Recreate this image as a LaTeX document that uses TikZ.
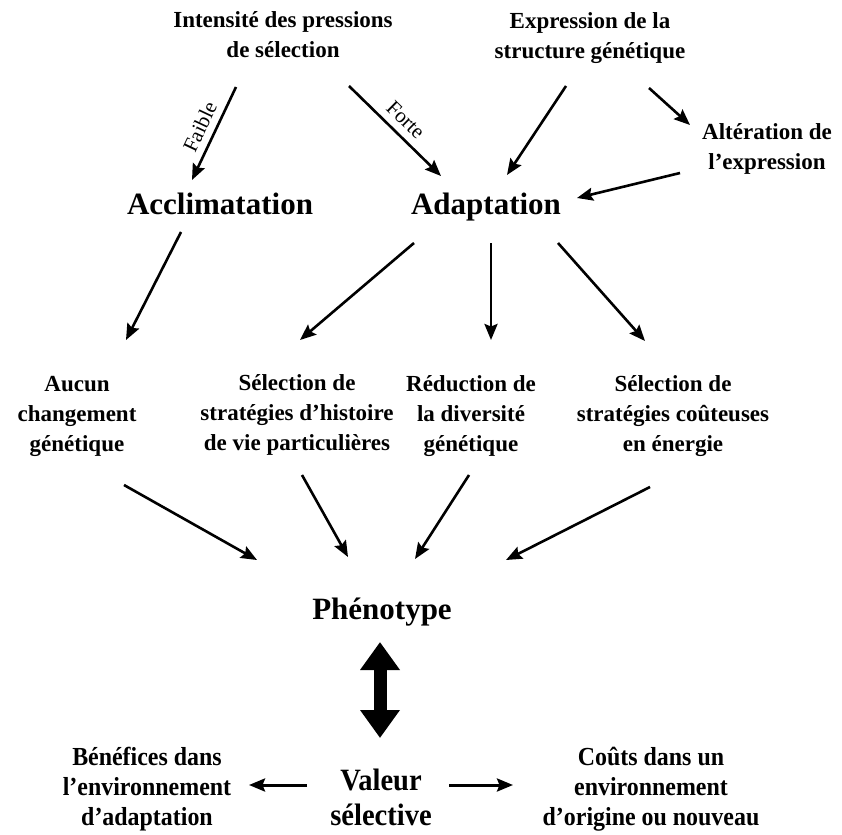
\documentclass[tikz,border=0pt]{standalone}
\usepackage{fontspec}
\setmainfont{Liberation Serif}
\newfontfamily\condfont{Liberation Serif}[FakeStretch=0.92]
\usetikzlibrary{arrows.meta}
\begin{document}
\begin{tikzpicture}[x=1pt,y=-1pt,
  txt/.style={font=\bfseries\fontsize{23}{30}\selectfont, align=center, inner sep=0pt},
  btxt/.style={font=\condfont\bfseries\fontsize{26}{30}\selectfont, align=center, inner sep=0pt},
  big/.style={font=\bfseries\fontsize{31}{35}\selectfont, align=center, inner sep=0pt},
  vbig/.style={font=\condfont\bfseries\fontsize{31}{35}\selectfont, align=center, inner sep=0pt},
  arr/.style={line width=2.6pt, -{Stealth[length=16pt,width=13pt,inset=2.5pt]}},
  lab/.style={font=\fontsize{21}{21}\selectfont, sloped, above, inner sep=7pt}]
\useasboundingbox (0,0) rectangle (842,834);
\node[txt] (int) at (283,35) {Intensité des pressions\\de sélection};
\node[txt] (expr) at (590,38) {Expression de la\\structure génétique};
\node[txt] (alt) at (767,149) {Altération de\\l’expression};
\node[big] (accl) at (220,204) {Acclimatation};
\node[big] (adap) at (486,207) {Adaptation};
\node[txt] (aucun) at (77,416) {Aucun\\changement\\génétique};
\node[txt] (hist) at (297,415) {Sélection de\\stratégies d’histoire\\de vie particulières};
\node[txt] (red) at (471,416) {Réduction de\\la diversité\\génétique};
\node[txt] (cout) at (673,416) {Sélection de\\stratégies coûteuses\\en énergie};
\node[big] (phen) at (382,612) {Phénotype};
\node[vbig] (val) at (381,797) {Valeur\\sélective};
\node[btxt] (ben) at (147,789) {Bénéfices dans\\l’environnement\\d’adaptation};
\node[btxt] (couts) at (651,789) {Coûts dans un\\environnement\\d’origine ou nouveau};

\draw[arr] ([shift={(-47,52)}]int.center) -- node[lab]{Faible} ([shift={(-28,-24)}]accl.center);
\draw[arr] ([shift={(66,51)}]int.center) -- node[lab]{Forte} ([shift={(-45,-31)}]adap.center);
\draw[arr] ([shift={(-24,48)}]expr.center) -- ([shift={(21,-32)}]adap.center);
\draw[arr] ([shift={(59,50)}]expr.center) -- ([shift={(-77,-24)}]alt.center);
\draw[arr] ([shift={(-87,24)}]alt.center) -- ([shift={(91,-9)}]adap.center);
\draw[arr] ([shift={(-39,28)}]accl.center) -- ([shift={(49,-76)}]aucun.center);
\draw[arr] ([shift={(-72,36)}]adap.center) -- ([shift={(3,-75)}]hist.center);
\draw[arr] ([shift={(5,36)}]adap.center) -- ([shift={(20,-76)}]red.center);
\draw[arr] ([shift={(72,36)}]adap.center) -- ([shift={(-28,-75)}]cout.center);
\draw[arr] ([shift={(47,69)}]aucun.center) -- ([shift={(-125,-52)}]phen.center);
\draw[arr] ([shift={(5,60)}]hist.center) -- ([shift={(-34,-55)}]phen.center);
\draw[arr] ([shift={(-2,59)}]red.center) -- ([shift={(33,-53)}]phen.center);
\draw[arr] ([shift={(-23,71)}]cout.center) -- ([shift={(124,-52)}]phen.center);
\draw[line width=13pt, {Triangle[length=28pt,width=38pt]}-{Triangle[length=28pt,width=38pt]}]
  ([shift={(-2,30)}]phen.center) -- ([shift={(-1,-59)}]val.center);
\draw[arr, line width=3pt] ([shift={(-74,-12)}]val.center) -- ([shift={(102,-4)}]ben.center);
\draw[arr, line width=3pt] ([shift={(68,-12)}]val.center) -- ([shift={(-138,-4)}]couts.center);
\end{tikzpicture}
\end{document}
